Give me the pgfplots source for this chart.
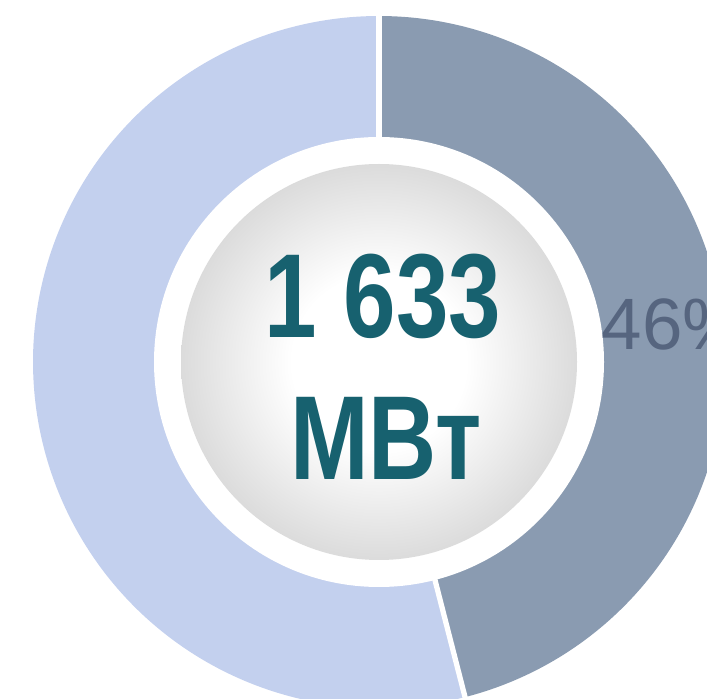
\documentclass[border=0pt]{standalone}
\usepackage{pgfplots}
\pgfplotsset{compat=1.18}
\usepackage{pgfplotstable}
\usepackage{fontspec}
\setmainfont{Liberation Sans}
\definecolor{lightblue}{HTML}{C3D0EE}
\definecolor{slate}{HTML}{8A9BB1}
\definecolor{tealtext}{HTML}{17616F}
\definecolor{pcttext}{HTML}{56657F}
\pgfdeclareradialshading{innerball}{\pgfpoint{0bp}{0bp}}{color(0bp)=(white); color(11bp)=(white); color(25bp)=(black!14); color(50bp)=(black!14)}
\pgfplotstableread{
label value
A 46
B 54
}\datatable
\pgfplotstablegetelem{0}{value}\of\datatable
\pgfmathsetmacro{\angA}{\pgfplotsretval*3.6}
\begin{document}
\begin{tikzpicture}
\begin{axis}[scale only axis, width=7.07cm, height=6.98cm,
  xmin=-379, xmax=328, ymin=-336, ymax=362, hide axis]
\addplot[fill=slate, draw=none, domain=0:\angA, samples=200, variable=\t]
  ({346*sin(t)},{346*cos(t)}) -- (axis cs:0,0) -- cycle;
\addplot[fill=lightblue, draw=none, domain=\angA:360, samples=200, variable=\t]
  ({346*sin(t)},{346*cos(t)}) -- (axis cs:0,0) -- cycle;
\draw[white, line width=1.6pt] (axis cs:0,0) -- (axis cs:0,360);
\draw[white, line width=1.5pt] (axis cs:0,0) -- (axis cs:{360*sin(\angA)},{360*cos(\angA)});
\fill[white] (axis cs:0,0) circle[radius=2.25cm];
\shade[shading=innerball] (axis cs:0,0) circle[radius=1.98cm];
\node[anchor=base, inner sep=0, text=tealtext, font=\fontsize{34}{40}\selectfont\bfseries]
  at (axis cs:4,24) {\scalebox{0.79}[1]{1 633}};
\node[anchor=base, inner sep=0, text=tealtext, font=\fontsize{34}{40}\selectfont\bfseries]
  at (axis cs:7,-117) {\scalebox{0.79}[1]{МВт}};
\node[anchor=base west, inner sep=0, text=pcttext, font=\fontsize{20.7}{24}\selectfont]
  at (axis cs:222,12) {46\%};
\end{axis}
\pgfresetboundingbox
\path[use as bounding box] (current axis.south west) rectangle (current axis.north east);
\end{tikzpicture}
\end{document}
